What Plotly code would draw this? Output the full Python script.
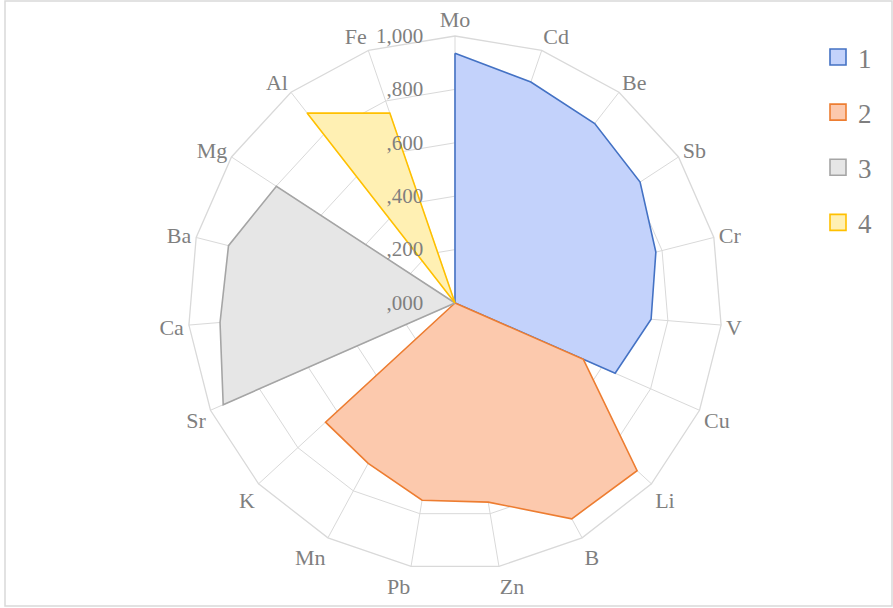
import plotly.graph_objects as go

categories = ["Mo", "Cd", "Be", "Sb", "Cr", "V", "Cu", "Li", "B", "Zn",
              "Pb", "Mn", "K", "Sr", "Ca", "Ba", "Mg", "Al", "Fe"]

series_names = ["1", "2", "3", "4"]
s1 = [935, 875, 852, 828, 776, 737, 655, 0, 0, 0, 0, 0, 0, 0, 0, 0, 0, 0, 0]
s2 = [0, 0, 0, 0, 0, 0, 525, 927, 919, 756, 749, 683, 659, 0, 0, 0, 0, 0, 0]
s3 = [0, 0, 0, 0, 0, 0, 0, 0, 0, 0, 0, 0, 0, 948, 883, 875, 799, 0, 0]
s4 = [0, 0, 0, 0, 0, 0, 0, 0, 0, 0, 0, 0, 0, 0, 0, 0, 0, 902, 752]

tick_vals = [0, 200, 400, 600, 800, 1000]
tick_text = [",000", ",200", ",400", ",600", ",800", "1,000"]

line_colors = ["#4472c4", "#ed7d31", "#a5a5a5", "#ffc000"]
fill_colors = ["#c3d2fb", "#fcc9ad", "#e6e6e6", "#fff0b3"]

W, H = 893, 608
cx, cy, R = 455, 303, 267

fig = go.Figure()
for name, vals, lc, fc in zip(series_names, [s1, s2, s3, s4], line_colors, fill_colors):
    fig.add_trace(go.Scatterpolar(
        r=vals + vals[:1],
        theta=categories + categories[:1],
        mode="lines",
        fill="toself",
        fillcolor=fc,
        line=dict(color=lc, width=1.6),
        name=name,
        legendgroup=name,
        showlegend=False,
    ))
# legend entries (square swatches)
for name, lc, fc in zip(series_names, line_colors, fill_colors):
    fig.add_trace(go.Scatterpolar(
        r=[None], theta=[categories[0]],
        mode="markers",
        marker=dict(symbol="square", size=17, color=fc, line=dict(color=lc, width=1.6)),
        name=name,
        legendgroup=name,
        showlegend=True,
    ))

font_family = "Liberation Serif"
txt_color = "#7f7f7f"

fig.update_layout(
    width=W, height=H,
    margin=dict(l=0, r=0, t=0, b=0),
    paper_bgcolor="white",
    plot_bgcolor="white",
    font=dict(family=font_family, color=txt_color, size=22),
    polar=dict(
        domain=dict(x=[(cx - R) / W, (cx + R) / W],
                    y=[1 - (cy + R) / H, 1 - (cy - R) / H]),
        bgcolor="white",
        gridshape="linear",
        radialaxis=dict(
            range=[0, 1000],
            tickvals=tick_vals,
            ticktext=tick_text,
            angle=90,
            tickangle=90,
            side="counterclockwise",
            showline=False,
            gridcolor="#d9d9d9",
            gridwidth=1.3,
            ticks="outside",
            ticklen=24,
            tickcolor="rgba(0,0,0,0)",
            tickfont=dict(family=font_family, color=txt_color, size=21),
        ),
        angularaxis=dict(
            direction="clockwise",
            rotation=90,
            gridcolor="#d9d9d9",
            gridwidth=1.3,
            linecolor="#d9d9d9",
            linewidth=1.3,
            showline=True,
            ticks="",
            tickfont=dict(family=font_family, color=txt_color, size=22),
        ),
    ),
    showlegend=True,
    legend=dict(
        x=818 / W, y=1 - 33 / H, xanchor="left", yanchor="top",
        font=dict(family=font_family, color=txt_color, size=27),
        tracegroupgap=17,
        bgcolor="rgba(0,0,0,0)",
        itemwidth=30,
    ),
    shapes=[dict(type="rect", xref="paper", yref="paper",
                 x0=5 / W, x1=892 / W, y0=1 - 606 / H, y1=1 - 1 / H,
                 line=dict(color="#d9d9d9", width=1.5))],
)

fig.write_html("out.html")
